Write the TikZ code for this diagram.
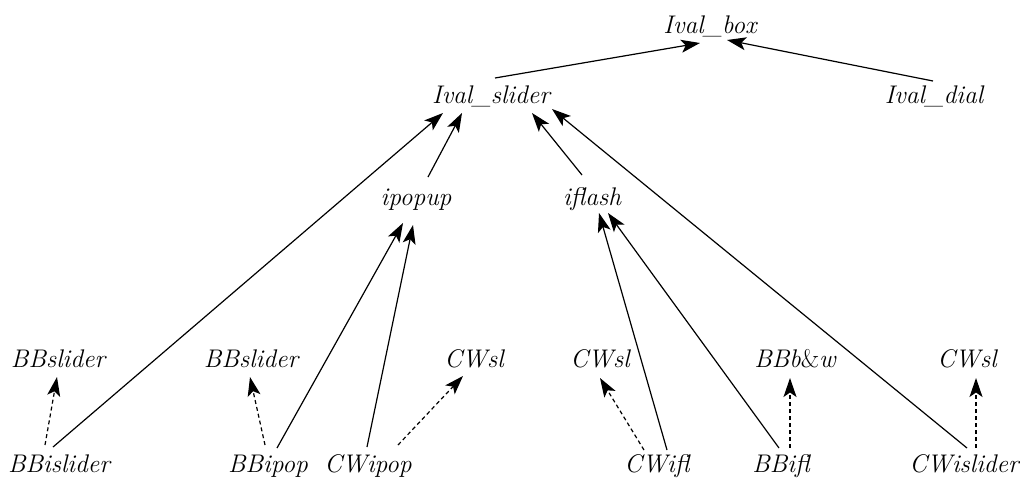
\documentclass[tikz,border=0pt]{standalone}
\usetikzlibrary{arrows.meta,calc}
\begin{document}
\begin{tikzpicture}[x=1pt,y=-1pt,
  lbl/.style={anchor=base,inner sep=0pt,font=\fontsize{25.5}{30}\selectfont\itshape},
  inh/.style={-{Stealth[length=19pt,width=13pt,inset=4.5pt]},line width=1.2pt},
  impl/.style={-{Stealth[length=19pt,width=13pt,inset=4.5pt]},line width=1.2pt,dash pattern=on 4pt off 3pt}]
\useasboundingbox (0,0) rectangle (1020,477);
% nodes
\node[lbl] (box) at (710,33) {Ival\_box};
\node[lbl] (slider) at (491,103) {Ival\_slider};
\node[lbl] (dial) at (934,103) {Ival\_dial};
\node[lbl] (ipopup) at (416,205) {ipopup};
\node[lbl] (iflash) at (592,205) {iflash};
\node[lbl] (bbsl1) at (58,367) {BBslider};
\node[lbl] (bbsl2) at (251,367) {BBslider};
\node[lbl] (cwsl1) at (474,367) {CWsl};
\node[lbl] (cwsl2) at (600,367) {CWsl};
\node[lbl] (bbbw) at (795,367) {BBb{\upshape\&}w};
\node[lbl] (cwsl3) at (967,367) {CWsl};
\node[lbl] (bbislider) at (59,472) {BBislider};
\node[lbl] (bbipop) at (268,472) {BBipop};
\node[lbl] (cwipop) at (368,472) {CWipop};
\node[lbl] (cwifl) at (657,472) {CWifl};
\node[lbl] (bbifl) at (781,472) {BBifl};
\node[lbl] (cwislider) at (964,472) {CWislider};
% inheritance
\draw[inh] ($(slider.base)+(4,-25)$) -- ($(box.base)+(-10,10)$);
\draw[inh] ($(dial.base)+(-1,-22)$) -- ($(box.base)+(17,7)$);
\draw[inh] ($(bbislider.base)+(-6,-25)$) -- ($(slider.base)+(-48,10)$);
\draw[inh] ($(ipopup.base)+(12,-28)$) -- ($(slider.base)+(-29,10)$);
\draw[inh] ($(iflash.base)+(-10,-30)$) -- ($(slider.base)+(41,10)$);
\draw[inh] ($(cwislider.base)+(3,-24)$) -- ($(slider.base)+(61,6)$);
\draw[inh] ($(bbipop.base)+(9,-24)$) -- ($(ipopup.base)+(-13,18)$);
\draw[inh] ($(cwipop.base)+(-1,-25)$) -- ($(ipopup.base)+(-3,20)$);
\draw[inh] ($(cwifl.base)+(10,-22)$) -- ($(iflash.base)+(7,8)$);
\draw[inh] ($(bbifl.base)+(-2,-24)$) -- ($(iflash.base)+(16,8)$);
% implementation (dashed)
\draw[impl] ($(bbislider.base)+(-14,-27)$) -- ($(bbsl1.base)+(-1,10)$);
\draw[impl] ($(bbipop.base)+(-3,-27)$) -- ($(bbsl2.base)+(-1,10)$);
\draw[impl] ($(cwipop.base)+(30,-27)$) -- ($(cwsl1.base)+(-11,9)$);
\draw[impl] ($(cwifl.base)+(-13,-22)$) -- ($(cwsl2.base)+(0,11)$);
\draw[impl] ($(bbifl.base)+(9,-24)$) -- ($(bbbw.base)+(-5,11)$);
\draw[impl] ($(cwislider.base)+(12,-24)$) -- ($(cwsl3.base)+(9,11)$);
\end{tikzpicture}
\end{document}
